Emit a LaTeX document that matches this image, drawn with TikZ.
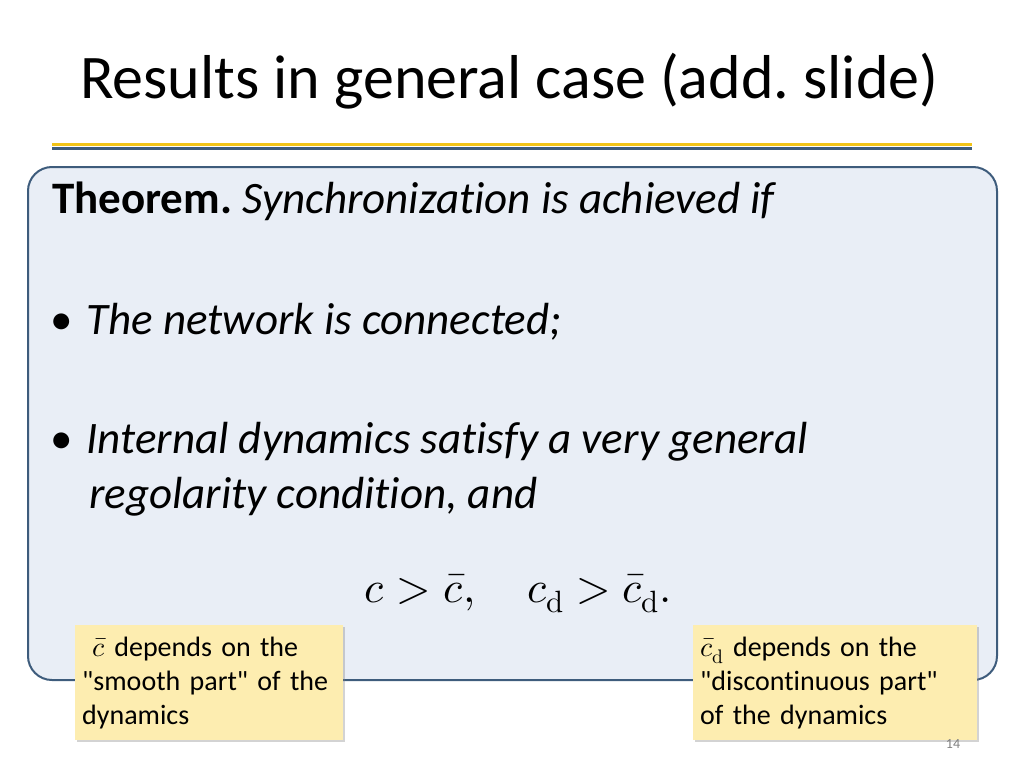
\documentclass[tikz,border=0pt]{standalone}
\usepackage{fontspec}
\setmainfont{Carlito}[Ligatures={NoCommon}]
\usepackage{unicode-math}
\setmathfont{Latin Modern Math}
\usetikzlibrary{shadows}
\frenchspacing
\definecolor{boxblue}{HTML}{E9EEF6}
\definecolor{edgeblue}{HTML}{3E5C7C}
\definecolor{notefill}{HTML}{FDEDB0}
\definecolor{lineyellow}{HTML}{F2C418}
\newcommand{\dq}{{\addfontfeature{Ligatures=TeXOff}"}}
\tikzset{
    notebox/.style={draw=none, fill=notefill, drop shadow={opacity=.35, shadow xshift=1.5pt, shadow yshift=-1.5pt},
        minimum width=268pt, minimum height=115pt, text width=254pt, align=left, inner sep=0pt,
        font=\fontsize{28pt}{34pt}\selectfont},
    bodytext/.style={anchor=base west, inner sep=0pt, font=\fontsize{45pt}{50pt}\selectfont\itshape}
}
\begin{document}
\begin{tikzpicture}[x=1pt,y=-1pt]
        \useasboundingbox (0,0) rectangle (1024,768);
        \node [anchor=base west, inner sep=0pt, font=\fontsize{62pt}{70pt}\selectfont] (title) at (80,98) {Results in general case (add. slide)};
        \draw [lineyellow, line width=3pt] (52,144.5) -- (972,144.5);
        \draw [edgeblue, line width=3.5pt] (52,148.5) -- (972,148.5);
        % theorem box
        \draw [edgeblue, line width=2pt, fill=boxblue, rounded corners=24pt] (28,167) rectangle (997,680);
        \node [bodytext] (thm) at (52,213) {\upshape\bfseries Theorem.\mdseries\itshape\ Synchronization is achieved if};
        \node [bodytext] (itemA) at (50,334) {\upshape•\itshape\hspace{14pt}The network is connected;};
        \node [bodytext] (itemB) at (50,453) {\upshape•\itshape\hspace{14pt}Internal dynamics satisfy a very general};
        \node [bodytext] (itemC) at (89,508) {regolarity condition, and};
        \node [anchor=base, inner sep=0pt, font=\fontsize{44pt}{48pt}\selectfont] (ineq) at (518,602)
            {$c > \bar{c}, \quad c_{\symup{d}} > \bar{c}_{\symup{d}}.$};
        % notes
        \node [notebox, anchor=north west] (noteL) at (75,625)
            {\hspace*{10pt}$\bar{c}$ depends on the\\\dq smooth part\dq{} of the\\dynamics};
        \node [notebox, anchor=north west, minimum width=284pt, text width=270pt] (noteR) at (693,625)
            {$\bar{c}_{\symup{d}}$ depends on the\\\dq discontinuous part\dq\\of the dynamics};
        \node [anchor=base, inner sep=0pt, text=gray, font=\fontsize{14pt}{16pt}\selectfont] (page) at (953,748) {14};
\end{tikzpicture}
\end{document}
